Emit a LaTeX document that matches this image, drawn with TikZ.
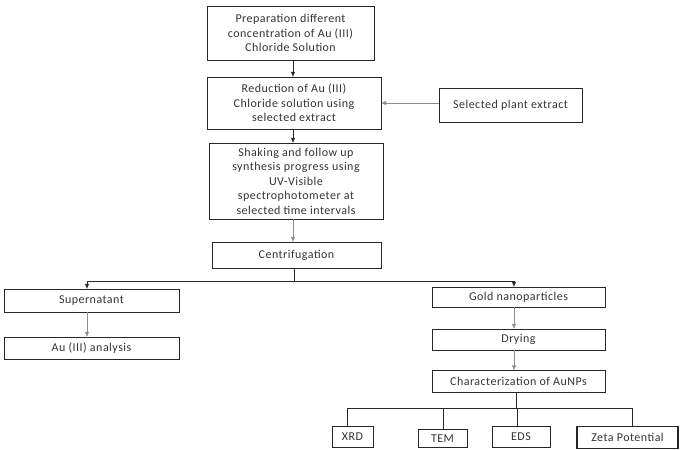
\documentclass[tikz,border=0pt]{standalone}
\usepackage{fontspec}
\setmainfont{Carlito}[LetterSpace=4]
\usetikzlibrary{arrows.meta}

\begin{document}
\begin{tikzpicture}[x=1pt, y=-1pt,
    box/.style={draw=black!85, align=center, inner sep=1pt, text=black!80,
        font=\fontsize{12}{14.5}\selectfont},
    arr/.style={-{Latex[length=5pt,width=4.5pt]}, black!85},
    greyarr/.style={-{Latex[length=5pt,width=4.5pt]}, black!45}]

\useasboundingbox (0,0) rectangle (689,450);

    %main column
    \node[box, minimum width=167pt, minimum height=54pt] (prep) at (290.5,33)
        {Preparation different\\concentration of Au (III)\\Chloride Solution};
    \node[box, minimum width=174pt, minimum height=52pt] (reduc) at (294,103)
        {Reduction of Au (III)\\Chloride solution using\\selected extract};
    \node[box, minimum width=143pt, minimum height=34pt] (plant) at (510.5,105)
        {Selected plant extract};
    \node[box, minimum width=174pt, minimum height=76pt] (shake) at (296,181)
        {Shaking and follow up\\synthesis progress using\\UV-Visible\\spectrophotometer at\\selected time intervals};
    \node[box, minimum width=169pt, minimum height=26pt] (centri) at (296.5,255)
        {Centrifugation};

    %left branch
    \node[box, minimum width=175pt, minimum height=23pt] (super) at (91.5,300.5)
        {Supernatant};
    \node[box, minimum width=175pt, minimum height=22pt] (auan) at (91.5,348)
        {Au (III) analysis};

    %right branch
    \node[box, minimum width=173pt, minimum height=20pt] (gold) at (518.5,297)
        {Gold nanoparticles};
    \node[box, minimum width=173pt, minimum height=21pt] (dry) at (518.5,339.5)
        {Drying};
    \node[box, minimum width=173pt, minimum height=22pt] (charac) at (518.5,381.5)
        {Characterization of AuNPs};

    %techniques
    \node[box, minimum width=41pt, minimum height=21pt] (xrd) at (352.5,437) {XRD};
    \node[box, minimum width=49pt, minimum height=18pt] (tem) at (442.5,438.5) {TEM};
    \node[box, minimum width=58pt, minimum height=21pt] (eds) at (521,437) {EDS};
    \node[box, minimum width=101pt, minimum height=22pt, very thick] (zeta) at (627.5,437.5) {Zeta Potential};

    %arrows
    \draw[arr] (prep.south -| 293,0) -- (reduc.north -| 293,0);
    \draw[greyarr] (plant.west |- 0,103) -- (reduc.east |- 0,103);
    \draw[arr] (reduc.south -| 293,0) -- (shake.north -| 293,0);
    \draw[greyarr] (shake.south -| 293,0) -- (centri.north -| 293,0);

    \coordinate (split) at (294,281.5);
    \draw[black!85] (centri.south -| split) -- (split);
    \draw[arr] (split) -| (super.north -| 87,0);
    \draw[arr] (split) -| (gold.north -| 514,0);

    \draw[greyarr] (super.south -| 87,0) -- (auan.north -| 87,0);
    \draw[greyarr] (gold.south -| 514,0) -- (dry.north -| 514,0);
    \draw[greyarr] (dry.south -| 514,0) -- (charac.north -| 514,0);

    %tree
    \coordinate (fork) at (516,408.5);
    \draw[black!85] (charac.south -| fork) -- (fork);
    \foreach \t/\x in {xrd/347, tem/443, eds/517, zeta/632}
        \draw[black!85] (fork) -| (\t.north -| \x,0);
\end{tikzpicture}
\end{document}
